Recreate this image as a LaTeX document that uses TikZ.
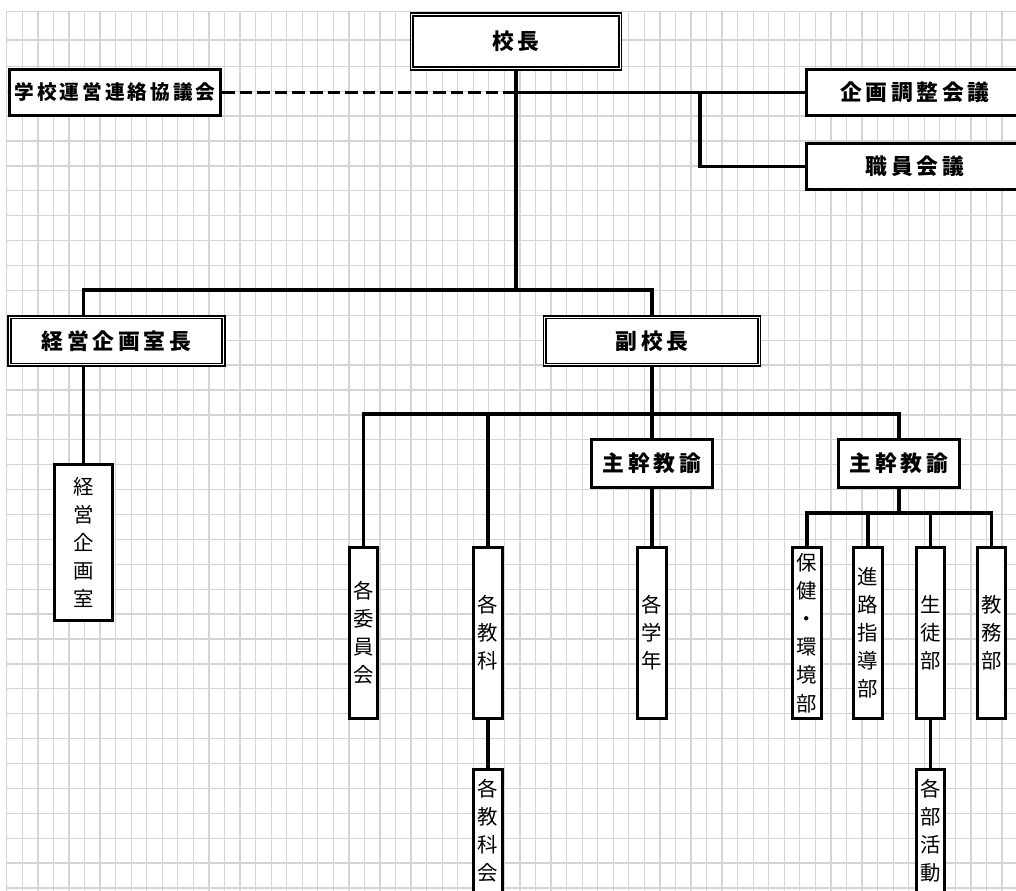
\documentclass[tikz,border=0pt]{standalone}
\usepackage{fontspec}
\newfontfamily\jp{Noto Sans CJK JP}
\usetikzlibrary{calc}

\tikzset{
  gridline/.style={line width=0.9pt, black!17},
  conn/.style={line width=2.4pt},
  hbox/.style={draw, line width=2.2pt, fill=white, inner sep=0pt,
    minimum height=1.15cm,
    font=\jp\bfseries\fontsize{15.5}{18}\selectfont\addfontfeature{LetterSpace=17}},
  dblbox/.style={draw, double=white, double distance=0.8pt, line width=1.2pt,
    fill=white, inner sep=0pt,
    font=\jp\bfseries\fontsize{15.5}{18}\selectfont\addfontfeature{LetterSpace=17}},
  vbox/.style={draw, line width=2.2pt, fill=white, inner sep=0pt, align=center,
    minimum width=0.72cm, minimum height=4.275cm,
    font=\jp\fontsize{14.5}{20}\selectfont}
}

\begin{document}
\begin{tikzpicture}[x=0.025cm, y=-0.025cm]
  \useasboundingbox (0,0) rectangle (1016,891);
  % sheet grid
  \foreach \i in {0,...,64}
    \draw[gridline] (6.8+15.55*\i,11.5) -- (6.8+15.55*\i,891);
  \foreach \yy in {11.5,40}
    \draw[gridline] (6.8,\yy) -- (1016,\yy);
  \foreach \i in {0,...,33}
    \draw[gridline] (6.8,66.3+24.9*\i) -- (1016,66.3+24.9*\i);

  % top level
  \node[dblbox, minimum width=5.21cm, minimum height=1.36cm] (kocho) at (516,41.5) {校長};
  \node[hbox, minimum width=5.275cm,
    font=\jp\bfseries\fontsize{14}{17}\selectfont\addfontfeature{LetterSpace=15}]
    (kyogikai) at (115,92.5) {学校運営連絡協議会};
  \node[hbox, minimum width=5.425cm] (kikaku) at (915,92.5) {企画調整会議};
  \node[hbox, minimum width=5.425cm] (shokuin) at (915,166.5) {職員会議};

  % second level
  \node[dblbox, minimum width=5.36cm, minimum height=1.19cm] (keiei) at (116.5,341) {経営企画室長};
  \node[dblbox, minimum width=5.36cm, minimum height=1.19cm] (fuku) at (652,341) {副校長};
  \node[hbox, minimum width=3.025cm, minimum height=1.2cm] (shukan1) at (652,463.5) {主幹教諭};
  \node[hbox, minimum width=3.025cm, minimum height=1.2cm] (shukan2) at (899,463.5) {主幹教諭};

  % vertical boxes
  \node[vbox, minimum width=1.45cm, minimum height=3.9cm] (keieishitsu) at (83.5,542.5) {経\\営\\企\\画\\室};
  \node[vbox] (iinkai) at (363.5,633) {各\\委\\員\\会};
  \node[vbox] (kyoka) at (488,633) {各\\教\\科};
  \node[vbox] (gakunen) at (652,633) {各\\学\\年};
  \node[vbox] (hoken) at (807,633) {保\\健\\・\\環\\境\\部};
  \node[vbox] (shinro) at (868,633) {進\\路\\指\\導\\部};
  \node[vbox] (seito) at (930.5,633) {生\\徒\\部};
  \node[vbox] (kyomu) at (991.5,633) {教\\務\\部};
  \node[vbox, minimum height=3.075cm] (kyokakai) at (488,831) {各\\教\\科\\会};
  \node[vbox, minimum height=3.075cm] (bukatsu) at (930.5,831) {各\\部\\活\\動};

  % junctions
  \coordinate (j1) at (516,290);
  \coordinate (j2) at (652,414);
  \coordinate (j3) at (899,513);
  \coordinate (kbr) at (700,92.5);

  % connectors
  \draw[conn, dash pattern=on 9pt off 3.5pt] (kyogikai.east) -- (kyogikai.east -| kocho.south);
  \draw[conn] (kocho.south) -- (j1);
  \draw[conn] (kikaku.west) -- (kikaku.west -| kocho.south);
  \draw[conn] (kbr) |- (shokuin.west);
  \draw[conn] (keiei.north -| keieishitsu.north) |- (j1) -| (fuku.north);
  \draw[conn] (keiei.south -| keieishitsu.north) -- (keieishitsu.north);
  \draw[conn] (fuku.south) -- (j2);
  \draw[conn] (iinkai.north) |- (shukan2.north |- j2) -- (shukan2.north);
  \draw[conn] (kyoka.north) -- (kyoka.north |- j2);
  \draw[conn] (shukan1.north) -- (shukan1.north |- j2);
  \draw[conn] (shukan1.south) -- (gakunen.north);
  \draw[conn] (kyoka.south) -- (kyokakai.north);
  \draw[conn] (shukan2.south) -- (j3);
  \draw[conn] (hoken.north) |- (j3) -| (kyomu.north);
  \draw[conn] (shinro.north) -- (shinro.north |- j3);
  \draw[conn] (seito.north) -- (seito.north |- j3);
  \draw[conn] (seito.south) -- (bukatsu.north);
\end{tikzpicture}
\end{document}
